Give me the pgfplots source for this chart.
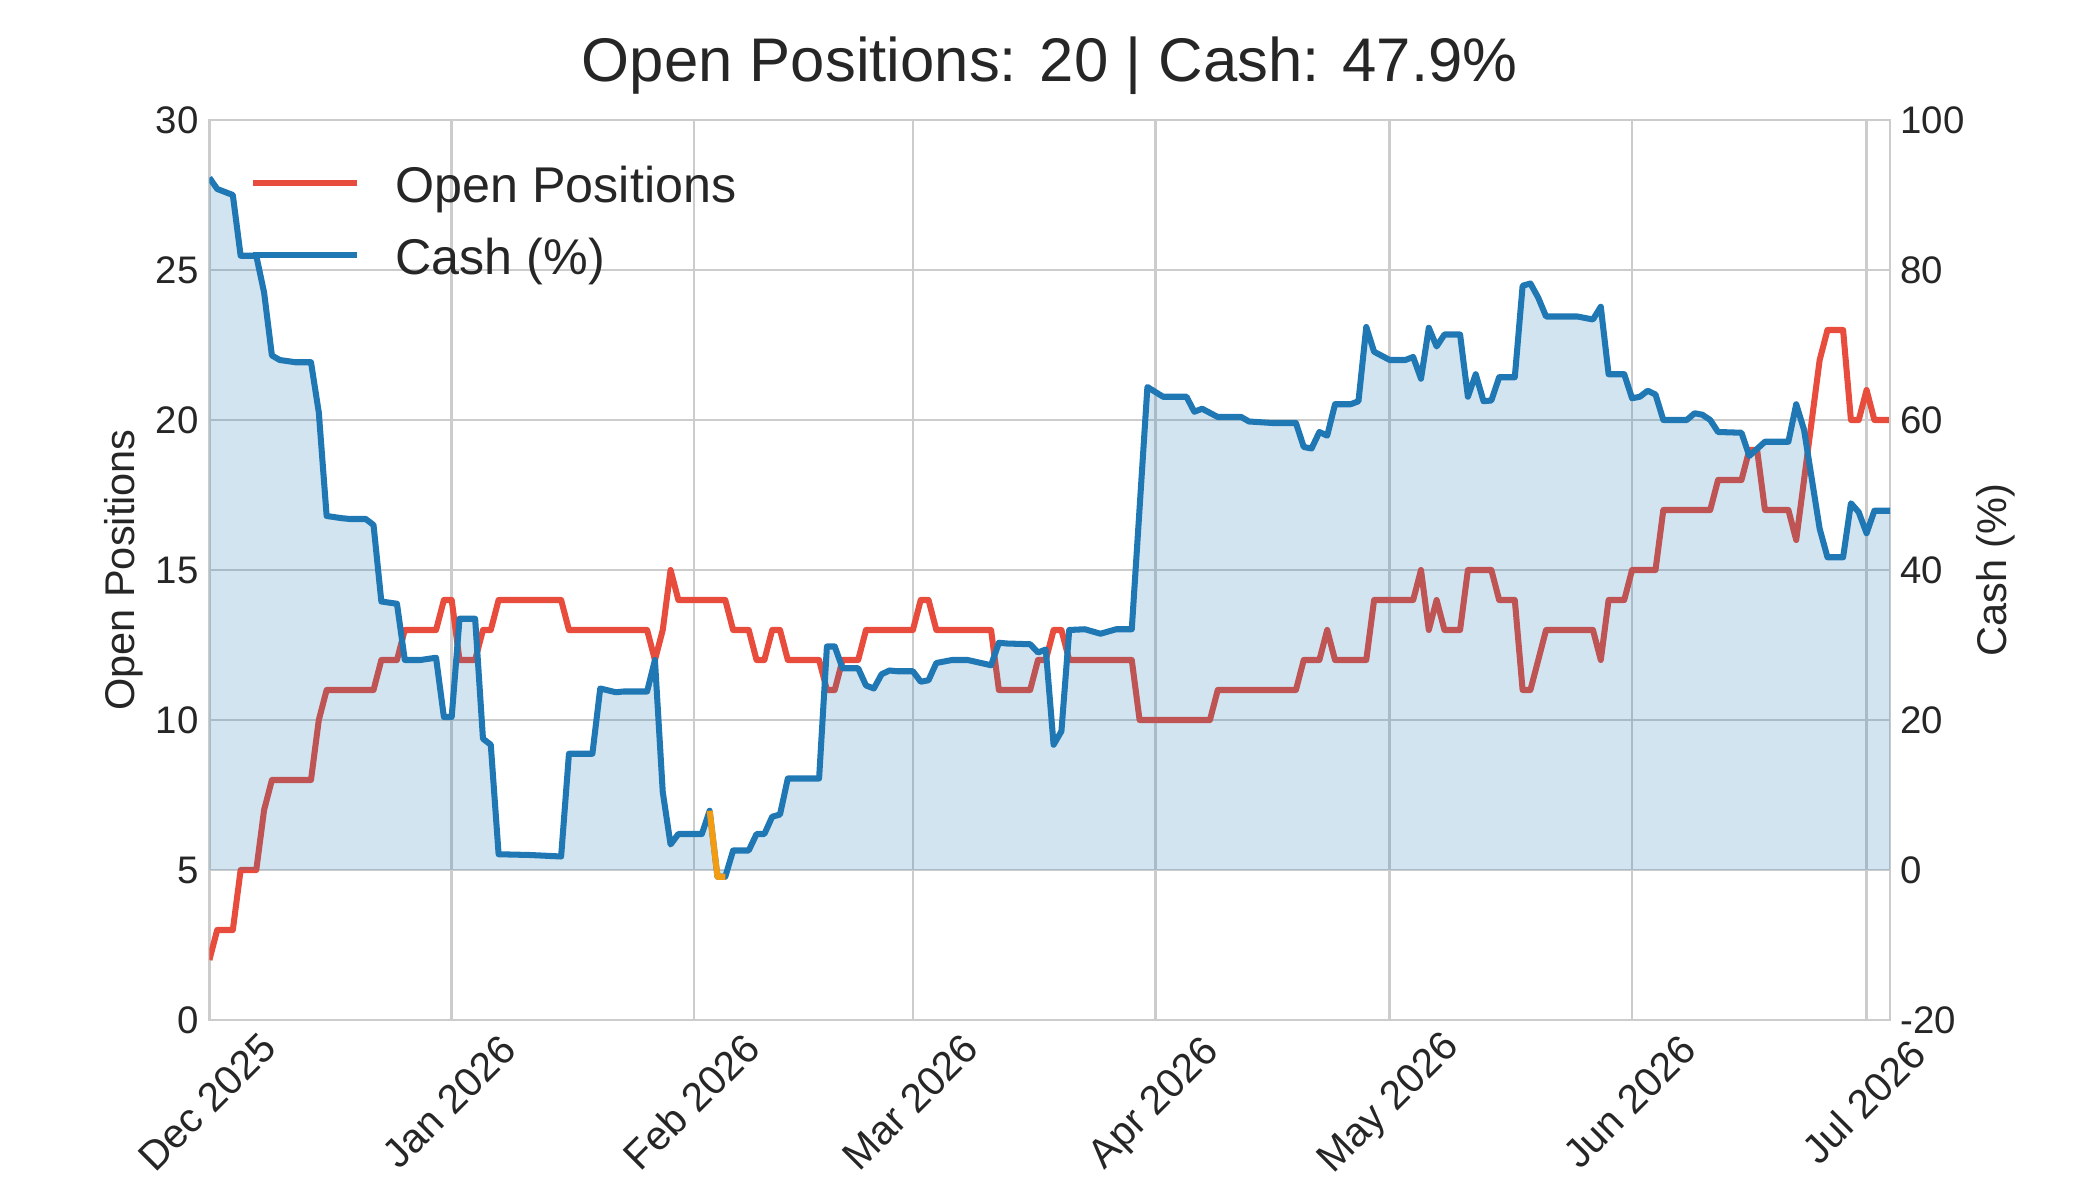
\documentclass[border=0pt]{standalone}
\usepackage{pgfplots}
\pgfplotsset{compat=1.18}
\usepackage{pgfplotstable}
\usepackage{fontspec}
\setmainfont{Liberation Sans}
\definecolor{posred}{HTML}{E74C3C}
\definecolor{cashblue}{HTML}{1F77B4}
\definecolor{negorange}{HTML}{F39C12}
\definecolor{gridgray}{HTML}{CCCCCC}
\definecolor{txt}{HTML}{262626}
\newcommand{\tickfont}{\fontsize{18.5}{22}\selectfont}
\newcommand{\xtickfont}{\fontsize{19.6}{23}\selectfont}
\newcommand{\labfont}{\fontsize{20}{24}\selectfont}

\pgfplotstableread{
day pos
0 2
1 3
3 3
4 5
6 5
7 7
8 8
13 8
14 10
15 11
21 11
22 12
24 12
25 13
29 13
30 14
31 14
32 12
34 12
35 13
36 13
37 14
45 14
46 13
56 13
57 12
58 13
59 15
60 14
66 14
67 13
69 13
70 12
71 12
72 13
73 13
74 12
78 12
79 11
80 11
81 12
83 12
84 13
90 13
91 14
92 14
93 13
100 13
101 11
105 11
106 12
107 12
108 13
109 13
110 12
118 12
119 10
128 10
129 11
139 11
140 12
142 12
143 13
144 12
148 12
149 14
154 14
155 15
156 13
157 14
158 13
160 13
161 15
164 15
165 14
167 14
168 11
169 11
171 13
177 13
178 12
179 14
181 14
182 15
185 15
186 17
192 17
193 18
196 18
197 19
198 19
199 17
202 17
203 16
205 20
206 22
207 23
209 23
210 20
211 20
212 21
213 20
215 20
}\postable

\pgfplotstableread{
day cash
0 92.3
1 90.8
2 90.4
3 90.0
4 81.9
6 81.9
7 77.0
8 68.6
9 68.0
11 67.7
13 67.7
14 61.0
15 47.2
17 46.9
18 46.8
20 46.8
21 46.0
22 35.8
24 35.5
25 28.0
27 28.0
29 28.3
30 20.4
31 20.4
32 33.5
34 33.5
35 17.5
36 16.7
37 2.1
41 2.0
45 1.8
46 15.5
49 15.5
50 24.2
52 23.7
53 23.8
56 23.8
57 28.0
58 10.4
59 3.4
60 4.8
63 4.8
64 7.9
65 -0.9
66 -0.9
67 2.6
69 2.6
70 4.8
71 4.8
72 7.1
73 7.4
74 12.2
78 12.2
79 29.8
80 29.8
81 26.9
83 26.9
84 24.6
85 24.2
86 26.1
87 26.6
88 26.5
90 26.5
91 25.1
92 25.3
93 27.6
95 28.0
97 28.0
100 27.3
101 30.3
102 30.2
105 30.1
106 29.0
107 29.4
108 16.7
109 18.5
110 32.0
112 32.1
114 31.5
116 32.1
118 32.1
120 64.4
122 63.1
125 63.1
126 61.1
127 61.5
129 60.4
132 60.4
133 59.8
136 59.6
139 59.6
140 56.4
141 56.2
142 58.4
143 57.9
144 62.1
146 62.1
147 62.5
148 72.4
149 69.1
151 68.0
153 68.0
154 68.4
155 65.5
156 72.3
157 69.8
158 71.4
160 71.4
161 63.1
162 66.1
163 62.5
164 62.6
165 65.7
167 65.7
168 77.9
169 78.2
170 76.3
171 73.8
175 73.8
177 73.4
178 75.1
179 66.1
181 66.1
182 62.9
183 63.1
184 63.9
185 63.4
186 60.0
189 60.0
190 60.9
191 60.7
192 60.0
193 58.4
196 58.3
197 55.2
199 57.1
202 57.1
203 62.1
204 58.7
206 45.5
207 41.7
209 41.7
210 48.9
211 47.7
212 44.9
213 47.9
215 47.9
}\cashtable

\begin{document}
\begin{tikzpicture}
\begin{axis}[
  name=ax1, at={(0,0)}, anchor=south west,
  scale only axis, width=806.7bp, height=432bp,
  xmin=0, xmax=215, ymin=0, ymax=30,
  xtick={0,31,62,90,121,151,182,212},
  xticklabels={Dec 2025,Jan 2026,Feb 2026,Mar 2026,Apr 2026,May 2026,Jun 2026,Jul 2026},
  ytick={0,5,10,15,20,25,30},
  yticklabels={0,5,10,15,20,25,30},
  grid=major,
  major grid style={draw=gridgray, line width=1.3bp},
  axis line style={draw=gridgray, line width=1.3bp},
  major tick length=0pt, tick style={draw=none},
  xticklabel style={font=\xtickfont, text=txt, inner sep=0pt, text height=14.1bp, text depth=4.1bp, anchor=center, yshift=-40.5bp, rotate=45},
  yticklabel style={font=\tickfont, text=txt, inner sep=0pt, anchor=east, xshift=-5bp},
  ylabel={Open Positions},
  every axis y label/.style={at={(axis description cs:-0.0507,0.5)}, rotate=90, anchor=center, font=\labfont, text=txt},
  title={Open Positions: 20 | Cash: 47.9\%},
  every axis title/.style={at={(axis description cs:0.5,1)}, anchor=base, yshift=18.5bp, font=\fontsize{29.7}{35}\selectfont, text=txt},
  legend cell align=left,
  legend style={draw=none, fill=none, at={(axis description cs:0,1)}, anchor=north west,
    xshift=19.6bp, yshift=-20.95bp, inner sep=0pt, outer sep=0pt,
    font=\fontsize{24.2}{29}\selectfont, text=txt, row sep=10bp, column sep=17bp,
    nodes={inner sep=0pt, text height=18.45bp, text depth=6.15bp}},
  legend image code/.code={\draw[#1] (0bp,3.15bp) -- (49.9bp,3.15bp);},
]
\addplot[posred, line width=2.9bp, line join=round] table[x=day, y=pos] {\postable};
\addlegendentry{Open Positions}
\addlegendimage{cashblue, line width=2.9bp}
\addlegendentry{Cash (\%)}
\end{axis}
\begin{axis}[
  name=ax2, at={(0,0)}, anchor=south west,
  scale only axis, width=806.7bp, height=432bp,
  xmin=0, xmax=215, ymin=-20, ymax=100,
  axis x line=none, axis y line*=right,
  y axis line style={draw=gridgray, line width=1.3bp, -},
  ytick={-20,0,20,40,60,80,100},
  yticklabels={-20,0,20,40,60,80,100},
  major tick length=0pt, tick style={draw=none},
  yticklabel style={font=\tickfont, text=txt, inner sep=0pt, anchor=west, xshift=4.8bp},
  ylabel={Cash (\%)},
  every axis y label/.style={at={(axis description cs:1.0627,0.5)}, rotate=90, anchor=center, font=\labfont, text=txt},
]
\addplot[draw=none, fill=cashblue, fill opacity=0.2] table[x=day, y=cash] {\cashtable} \closedcycle;
\addplot[cashblue, line width=2.9bp, line join=round] table[x=day, y=cash] {\cashtable};
\addplot[negorange, line width=2.9bp, line join=round] coordinates {(64,7.9) (65,-0.9) (66,-0.9)};
\end{axis}
\pgfresetboundingbox
\path[use as bounding box] (-100.5bp,-86.4bp) rectangle (907.5bp,489.6bp);
\end{tikzpicture}
\end{document}
